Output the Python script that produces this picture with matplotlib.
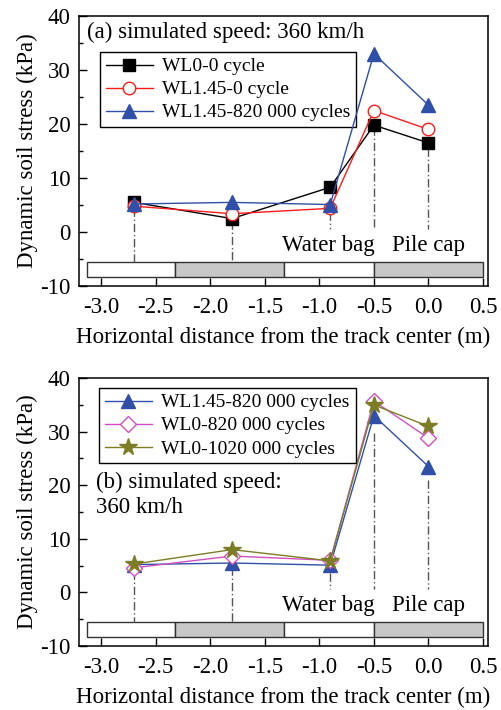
import matplotlib
matplotlib.use("Agg")
import matplotlib.pyplot as plt
from matplotlib.patches import Rectangle

plt.rcParams["font.family"] = ["Liberation Serif", "DejaVu Serif"]
plt.rcParams["axes.unicode_minus"] = False

# measuring points (m from track center)
x_pts = [-2.7, -1.8, -0.9, -0.5, 0.0]

# panel (a)
wl0_0 = [5.5, 2.5, 8.3, 19.8, 16.5]
wl145_0 = [4.8, 3.4, 4.4, 22.5, 19.0]
wl145_820k = [5.2, 5.5, 5.1, 33.0, 23.5]

# panel (b)
wl0_820k = [4.6, 6.8, 6.0, 35.7, 28.8]
wl0_1020k = [5.3, 8.0, 5.9, 35.0, 31.0]

labels_a = ["WL0-0 cycle", "WL1.45-0 cycle", "WL1.45-820 000 cycles"]
labels_b = ["WL1.45-820 000 cycles", "WL0-820 000 cycles", "WL0-1020 000 cycles"]

# dash-dot guide lines from each sensor down towards the strip
guide_top_a = [4.5, 2.0, 3.7, 19.5, 15.5]
guide_top_b = [4.0, 4.8, 3.6, 29.7, 21.0]
guide_bottom = [-5.5, -5.5, 0.6, 0.6, 0.6]

# structure strip along the bottom: soil / water bag / pile cap
strip_edges = [-3.13, -2.32, -1.32, -0.5, 0.5]
strip_fill = ["white", "#c8c8c8", "white", "#c8c8c8"]

BLUE = "#2f4fa8"
RED = "#ff1a1a"
MAGENTA = "#d050c0"
OLIVE = "#7d7d25"

TICK_FS = 16.5
LABEL_FS = 16.5
LEGEND_FS = 14


def draw_strip(ax):
    for left, right, fc in zip(strip_edges[:-1], strip_edges[1:], strip_fill):
        ax.add_patch(Rectangle((left, -8.3), right - left, 2.75, facecolor=fc,
                               edgecolor="#333333", linewidth=1.0, zorder=1))


def draw_guides(ax, tops):
    for x, top, bot in zip(x_pts, tops, guide_bottom):
        ax.plot([x, x], [top, bot], color="#555555", linewidth=1.0,
                linestyle=(0, (6, 2, 1, 2)), zorder=1)


def style_axes(ax):
    ax.set_xlim(-3.2, 0.545)
    ax.set_ylim(-10, 40)
    ax.set_xticks([-3.0, -2.5, -2.0, -1.5, -1.0, -0.5, 0.0, 0.5])
    ax.set_xticklabels(["-3.0", "-2.5", "-2.0", "-1.5", "-1.0", "-0.5", "0.0", "0.5"])
    ax.set_xticks([-3.25 + 0.25 * i for i in range(1, 16, 2)], minor=True)
    ax.set_yticks([-10, 0, 10, 20, 30, 40])
    ax.set_yticklabels(["-10", "0", "10", "20", "30", "40"])
    ax.set_yticks([-5, 5, 15, 25, 35], minor=True)
    ax.tick_params(which="major", direction="in", length=6, width=1.0,
                   labelsize=TICK_FS)
    ax.tick_params(axis="x", which="major", pad=8)
    ax.tick_params(axis="y", which="major", pad=6)
    ax.tick_params(which="minor", direction="in", length=3, width=1.0)
    for sp in ax.spines.values():
        sp.set_linewidth(1.1)
    ax.set_xlabel("Horizontal distance from the track center (m)", fontsize=LABEL_FS, labelpad=6)
    ax.set_ylabel("Dynamic soil stress (kPa)", fontsize=LABEL_FS, labelpad=2)
    ax.text(-0.92, -2.5, "Water bag", ha="center", va="center", fontsize=TICK_FS, zorder=3)
    ax.text(0.0, -2.5, "Pile cap", ha="center", va="center", fontsize=TICK_FS, zorder=3)


def add_legend(ax, anchor):
    leg = ax.legend(loc="upper left", bbox_to_anchor=anchor, fontsize=LEGEND_FS,
                    frameon=True, fancybox=False, edgecolor="black", framealpha=1,
                    handlelength=2.4, borderpad=0.3, labelspacing=0.28,
                    handletextpad=0.5, borderaxespad=0)
    leg.get_frame().set_linewidth(1.0)


fig = plt.figure(figsize=(5.01, 7.10), dpi=100)
ax_a = fig.add_axes([0.158, 0.597, 0.816, 0.3805])
ax_b = fig.add_axes([0.158, 0.090, 0.816, 0.3775])

# panel (a)
draw_strip(ax_a)
draw_guides(ax_a, guide_top_a)
ax_a.plot(x_pts, wl0_0, color="black", lw=1.0, marker="s", ms=8, mfc="black",
          mec="black", label=labels_a[0], zorder=4)
ax_a.plot(x_pts, wl145_0, color=RED, lw=1.0, marker="o", ms=9, mfc="white",
          mec=RED, mew=1.0, label=labels_a[1], zorder=5)
ax_a.plot(x_pts, wl145_820k, color=BLUE, lw=1.0, marker="^", ms=10, mfc=BLUE,
          mec=BLUE, label=labels_a[2], zorder=6)
style_axes(ax_a)
ax_a.text(-3.13, 36.9, "(a) simulated speed: 360 km/h", ha="left", va="center",
          fontsize=LABEL_FS)
add_legend(ax_a, (0.051, 0.867))

# panel (b)
draw_strip(ax_b)
draw_guides(ax_b, guide_top_b)
ax_b.plot(x_pts, wl145_820k, color=BLUE, lw=1.0, marker="^", ms=10, mfc=BLUE,
          mec=BLUE, label=labels_b[0], zorder=4)
ax_b.plot(x_pts, wl0_820k, color=MAGENTA, lw=1.0, marker="D", ms=8, mfc="white",
          mec=MAGENTA, mew=1.0, label=labels_b[1], zorder=5)
ax_b.plot(x_pts, wl0_1020k, color=OLIVE, lw=1.0, marker="*", ms=13, mfc=OLIVE,
          mec=OLIVE, label=labels_b[2], zorder=6)
style_axes(ax_b)
ax_b.text(-3.05, 18.2, "(b) simulated speed:\n360 km/h", ha="left", va="center",
          fontsize=LABEL_FS, linespacing=1.2)
add_legend(ax_b, (0.049, 0.963))

fig.savefig("out.png", dpi=100)
